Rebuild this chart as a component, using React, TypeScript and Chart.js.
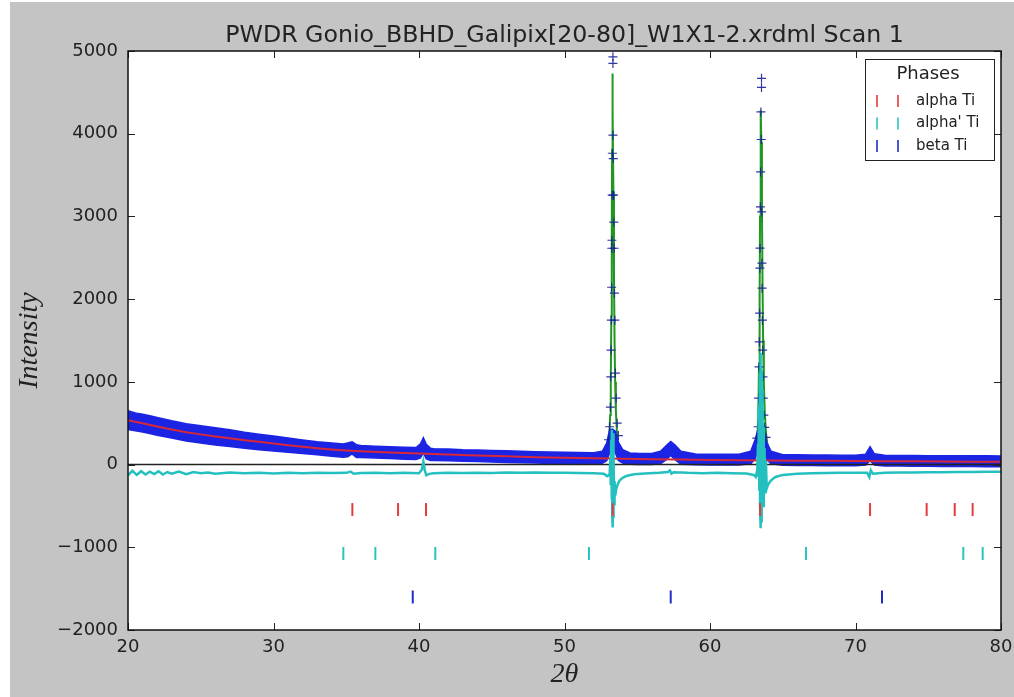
import React, { useEffect, useRef } from "react";
import { Chart, registerables } from "chart.js";
Chart.register(...registerables);

const TITLE = "PWDR Gonio_BBHD_Galipix[20-80]_W1X1-2.xrdml Scan 1";
const X_LABEL = "2θ";
const Y_LABEL = "Intensity";
const X_MIN = 20;
const X_MAX = 80;
const Y_MIN = -2000;
const Y_MAX = 5000;
const X_STEP = 10;
const Y_STEP = 1000;
const LEGEND_TITLE = "Phases";
const PHASE_NAMES = ["alpha Ti", "alpha' Ti", "beta Ti"];
const PHASE_COLORS = ["rgb(228,60,60)", "rgb(40,196,196)", "rgb(36,44,200)"];

// Observed intensity: envelope of the dense band of "+" markers
const obsBandX = [20, 20.5, 21, 21.5, 22, 23, 24, 25, 26, 27, 28, 29, 30, 31, 32, 33, 34, 34.8, 35.1, 35.4, 35.7, 36, 37, 38, 39, 39.8, 40.1, 40.3, 40.5, 40.8, 41, 42, 43, 44, 45, 46, 47, 48, 49, 50, 51, 52, 52.6, 52.9, 53.1, 53.3, 53.5, 53.7, 54.0, 54.5, 55, 56, 56.6, 57.0, 57.3, 57.6, 58.0, 59, 60, 61, 62, 62.8, 63.1, 63.3, 63.5, 63.7, 63.9, 64.2, 65, 66, 67, 68, 69, 70, 70.7, 71.0, 71.3, 72, 73, 74, 75, 76, 77, 78, 79, 80];
const obsBandHigh = [650, 625, 610, 590, 570, 530, 495, 470, 445, 420, 392, 368, 345, 322, 298, 276, 262, 250, 262, 275, 240, 232, 222, 215, 208, 205, 250, 325, 245, 196, 192, 188, 180, 176, 170, 166, 160, 156, 152, 148, 145, 142, 160, 260, 420, 430, 400, 270, 180, 140, 136, 134, 160, 230, 280, 235, 160, 128, 126, 124, 124, 160, 300, 430, 440, 420, 270, 160, 120, 118, 116, 115, 114, 114, 125, 215, 130, 112, 110, 109, 108, 108, 107, 106, 106, 105];
const obsBandLow = [425, 410, 395, 375, 355, 320, 285, 262, 238, 218, 198, 180, 165, 148, 135, 118, 100, 90, 95, 130, 85, 84, 78, 72, 65, 62, 80, 140, 70, 50, 48, 46, 40, 36, 30, 26, 22, 18, 14, 10, 8, 6, 15, 45, 140, 190, 140, 50, 20, 4, 2, 0, 10, 60, 110, 60, 5, -2, -4, -5, -6, 10, 70, 170, 200, 160, 60, 10, -8, -10, -12, -13, -14, -15, -5, 50, -5, -17, -18, -20, -21, -22, -23, -24, -25, -26];

// Observed points visible individually on the two strong reflections
const obsPeakX = [53.02, 53.10, 53.15, 53.18, 53.20, 53.22, 53.24, 53.25, 53.26, 53.28, 53.29, 53.33, 53.33, 53.33, 53.35, 53.37, 53.39, 53.41, 53.43, 53.46, 53.50, 53.55, 53.62, 53.70,
  63.22, 63.30, 63.34, 63.37, 63.39, 63.41, 63.43, 63.44, 63.46, 63.48, 63.54, 63.54, 63.50, 63.52, 63.55, 63.57, 63.58, 63.60, 63.62, 63.64, 63.66, 63.70, 63.76, 63.85];
const obsPeakY = [300, 457, 695, 1061, 1384, 1746, 2144, 2615, 2712, 3257, 3764, 4930, 4850, 3982, 3700, 3257, 2930, 2615, 2072, 1746, 1106, 803, 500, 350,
  320, 457, 803, 1182, 1484, 1830, 2374, 2616, 3115, 3538, 4670, 4560, 4263, 3930, 3055, 2435, 2133, 1746, 1384, 1061, 803, 598, 450, 330];

// Calculated profile
const calcX = [20, 22, 24, 26, 28, 30, 32, 34, 35.0, 35.25, 35.45, 35.65, 35.9, 38, 40.0, 40.15, 40.3, 40.45, 40.6, 42, 45, 48, 50, 52, 52.8, 53.0, 53.08, 53.14, 53.18, 53.22, 53.25, 53.27, 53.29, 53.32, 53.36, 53.40, 53.44, 53.48, 53.53, 53.6, 53.7, 53.85, 54.2, 56, 56.7, 57.0, 57.25, 57.5, 57.8, 60, 62, 63.0, 63.15, 63.25, 63.32, 63.37, 63.41, 63.44, 63.47, 63.50, 63.53, 63.57, 63.61, 63.65, 63.70, 63.76, 63.84, 63.95, 64.1, 66, 70, 70.7, 71.0, 71.3, 74, 77, 80];
const calcY = [535, 460, 390, 340, 295, 255, 215, 180, 170, 200, 235, 195, 162, 145, 135, 175, 290, 175, 130, 120, 103, 88, 80, 74, 110, 200, 350, 600, 1000, 1800, 2800, 3800, 4727, 4300, 3300, 2300, 1500, 1000, 650, 400, 230, 140, 90, 64, 80, 160, 240, 160, 75, 56, 53, 90, 150, 300, 600, 1200, 2000, 3000, 3900, 4283, 3900, 3100, 2200, 1500, 1000, 650, 400, 230, 130, 47, 43, 50, 185, 48, 39, 36, 34];

// Background
const bgX = [20, 21, 22, 23, 24, 25, 26, 27, 28, 29, 30, 31, 32, 33, 34, 35, 36, 38, 40, 42, 44, 46, 48, 50, 52, 54, 56, 58, 60, 62, 64, 66, 68, 70, 72, 74, 76, 78, 80];
const bgY = [535, 500, 460, 425, 392, 365, 340, 318, 295, 275, 255, 235, 215, 197, 182, 170, 160, 146, 133, 121, 110, 100, 90, 82, 75, 69, 64, 60, 56, 53, 50, 47, 45, 43, 41, 39, 37, 35, 34];

// Difference curve (obs - calc), plotted with an offset below zero
const diffX = [20, 20.3, 20.6, 20.9, 21.2, 21.5, 21.8, 22.1, 22.4, 22.7, 23, 23.5, 24, 24.5, 25, 25.5, 26, 27, 28, 29, 30, 31, 32, 33, 34, 35, 35.3, 35.5, 36, 37, 38, 39, 40.0, 40.2, 40.3, 40.4, 40.5, 40.7, 41, 42, 43, 44, 45, 46, 47, 48, 49, 50, 51, 52, 52.7, 52.95, 53.1, 53.15, 53.18, 53.21, 53.24, 53.26, 53.28, 53.3, 53.32, 53.34, 53.36, 53.38, 53.41, 53.44, 53.48, 53.55, 53.65, 53.8, 54.0, 54.3, 54.8, 55.5, 56.5, 57.1, 57.25, 57.35, 57.5, 58.5, 59.5, 60.5, 61.5, 62.5, 63.0, 63.15, 63.25, 63.3, 63.33, 63.36, 63.39, 63.42, 63.44, 63.46, 63.48, 63.5, 63.52, 63.54, 63.56, 63.58, 63.6, 63.62, 63.65, 63.68, 63.71, 63.75, 63.79, 63.84, 63.9, 64.0, 64.2, 64.5, 65, 66, 67, 68, 69, 70, 70.8, 70.95, 71.05, 71.2, 72, 73, 74, 75, 76, 77, 78, 79, 80];
const diffY = [-130, -75, -125, -80, -120, -85, -115, -80, -120, -90, -110, -85, -115, -90, -105, -95, -110, -95, -105, -98, -108, -100, -104, -98, -103, -100, -85, -110, -102, -98, -104, -100, -104, -60, 35, -70, -130, -112, -104, -100, -102, -98, -101, -97, -100, -96, -100, -98, -102, -104, -112, -140, -120, 60, -250, 300, -420, 420, -600, 250, -760, 380, -650, 100, -480, -200, -380, -300, -240, -190, -160, -135, -118, -108, -100, -90, -70, -110, -92, -100, -104, -100, -104, -108, -125, -150, -60, 250, -150, 700, -300, 1100, -500, 1350, -770, 1250, -450, 1150, -700, 900, -350, 700, -500, 450, -380, 200, -330, 50, -290, -240, -190, -150, -125, -112, -106, -102, -100, -100, -98, -150, -70, -110, -98, -96, -95, -93, -92, -90, -90, -88, -88];

// Reflection tick marks of each phase
const alphaTicks = [35.42, 38.56, 40.48, 53.31, 63.44, 71.0, 74.89, 76.82, 78.05];
const alphaPrimeTicks = [34.8, 37.0, 41.12, 51.68, 66.6, 77.41, 78.74];
const betaTicks = [39.57, 57.3, 71.82];
const TICK_ROW_VALUES = [-544, -1075, -1601];

const pts = (xs: number[], ys: number[]) => xs.map((x, i) => ({ x, y: ys[i] }));
const row = (xs: number[], y: number) => xs.map((x) => ({ x, y }));

const TEXT = "#222";
const SANS = '"DejaVu Sans", sans-serif';
const SERIF = '"Liberation Serif", serif';

const decorPlugin = {
  id: "decor",
  beforeDraw(chart: any) {
    const { ctx, chartArea: a, width, height } = chart;
    ctx.save();
    ctx.fillStyle = "#ffffff";
    ctx.fillRect(0, 0, width, height);
    ctx.fillStyle = "rgb(196,196,196)";
    ctx.fillRect(10, 2, width - 10, height - 2);
    ctx.fillStyle = "#ffffff";
    ctx.fillRect(a.left, a.top, a.right - a.left, a.bottom - a.top);
    ctx.restore();
  },
  afterDraw(chart: any) {
    const { ctx, chartArea: a, scales } = chart;
    const xs = scales.x;
    const ys = scales.y;
    ctx.save();
    // inward ticks
    ctx.strokeStyle = TEXT;
    ctx.lineWidth = 1;
    ctx.beginPath();
    for (let v = X_MIN; v <= X_MAX; v += X_STEP) {
      const px = Math.round(xs.getPixelForValue(v)) + 0.5;
      ctx.moveTo(px, a.bottom);
      ctx.lineTo(px, a.bottom - 7);
      ctx.moveTo(px, a.top);
      ctx.lineTo(px, a.top + 7);
    }
    for (let v = Y_MIN; v <= Y_MAX; v += Y_STEP) {
      const py = Math.round(ys.getPixelForValue(v)) + 0.5;
      ctx.moveTo(a.left, py);
      ctx.lineTo(a.left + 7, py);
      ctx.moveTo(a.right, py);
      ctx.lineTo(a.right - 7, py);
    }
    ctx.stroke();
    // frame
    ctx.lineWidth = 1.5;
    ctx.strokeStyle = "#111";
    ctx.strokeRect(a.left, a.top, a.right - a.left, a.bottom - a.top);

    // title
    ctx.fillStyle = TEXT;
    ctx.font = `23.7px ${SANS}`;
    ctx.textAlign = "center";
    ctx.textBaseline = "alphabetic";
    ctx.fillText(TITLE, (a.left + a.right) / 2, 42);

    // axis labels
    ctx.font = `italic 28px ${SERIF}`;
    ctx.textBaseline = "middle";
    ctx.fillText(X_LABEL, (a.left + a.right) / 2, 675);
    ctx.save();
    ctx.translate(30, (a.top + a.bottom) / 2);
    ctx.rotate(-Math.PI / 2);
    ctx.fillText(Y_LABEL, 0, 0);
    ctx.restore();

    // legend
    const lx = 865, ly = 59, lw = 129, lh = 101;
    ctx.fillStyle = "#ffffff";
    ctx.fillRect(lx, ly, lw, lh);
    ctx.lineWidth = 1;
    ctx.strokeStyle = "#222";
    ctx.strokeRect(lx + 0.5, ly + 0.5, lw, lh);
    ctx.fillStyle = TEXT;
    ctx.font = `18px ${SANS}`;
    ctx.textAlign = "center";
    ctx.fillText(LEGEND_TITLE, lx + 63, 74);
    ctx.font = `15px ${SANS}`;
    ctx.textAlign = "left";
    PHASE_NAMES.forEach((name, i) => {
      const y = 101 + i * 22.5;
      ctx.strokeStyle = PHASE_COLORS[i];
      ctx.lineWidth = 1.6;
      ctx.beginPath();
      ctx.moveTo(877, y - 6);
      ctx.lineTo(877, y + 6);
      ctx.moveTo(898, y - 6);
      ctx.lineTo(898, y + 6);
      ctx.stroke();
      ctx.fillStyle = TEXT;
      ctx.fillText(name, 916, y);
    });
    ctx.restore();
  },
};

export default function App() {
  const ref = useRef<HTMLCanvasElement>(null);
  useEffect(() => {
    const canvas = ref.current;
    if (!canvas) return;
    const tickDs = (data: any[], color: string) => ({
      data,
      showLine: false,
      pointStyle: "line",
      rotation: 90,
      pointRadius: 6.5,
      pointBorderWidth: 2,
      pointBorderColor: color,
      borderColor: color,
      backgroundColor: color,
      order: 1,
    });
    const chart = new Chart(canvas, {
      type: "line",
      data: {
        datasets: [
          {
            label: "obs high",
            data: pts(obsBandX, obsBandHigh),
            borderColor: "rgb(28,36,228)",
            backgroundColor: "rgb(28,36,228)",
            borderWidth: 1.5,
            pointRadius: 0,
            fill: "+1",
            order: 6,
          },
          {
            label: "obs low",
            data: pts(obsBandX, obsBandLow),
            borderColor: "rgb(28,36,228)",
            borderWidth: 1.5,
            pointRadius: 0,
            fill: false,
            order: 6,
          },
          {
            label: "obs",
            data: pts(obsPeakX, obsPeakY),
            showLine: false,
            pointStyle: "cross",
            pointRadius: 4.5,
            pointBorderWidth: 1.2,
            pointBorderColor: "rgba(24,34,150,0.9)",
            borderColor: "rgba(24,34,150,0.9)",
            order: 5,
          },
          {
            label: "calc",
            data: pts(calcX, calcY),
            borderColor: "rgb(34,150,34)",
            borderWidth: 2,
            pointRadius: 0,
            fill: false,
            order: 7,
          },
          {
            label: "background",
            data: pts(bgX, bgY),
            borderColor: "rgb(214,40,56)",
            borderWidth: 2,
            pointRadius: 0,
            fill: false,
            order: 4,
          },
          {
            label: "zero",
            data: [
              { x: X_MIN, y: 0 },
              { x: X_MAX, y: 0 },
            ],
            borderColor: "#222",
            borderWidth: 1.5,
            pointRadius: 0,
            fill: false,
            order: 3,
          },
          {
            label: "diff",
            data: pts(diffX, diffY),
            borderColor: "rgb(36,192,192)",
            borderWidth: 2.5,
            pointRadius: 0,
            fill: false,
            order: 2,
          },
          tickDs(row(alphaTicks, TICK_ROW_VALUES[0]), PHASE_COLORS[0]),
          tickDs(row(alphaPrimeTicks, TICK_ROW_VALUES[1]), PHASE_COLORS[1]),
          tickDs(row(betaTicks, TICK_ROW_VALUES[2]), PHASE_COLORS[2]),
        ] as any,
      },
      options: {
        animation: false,
        responsive: false,
        events: [],
        layout: { padding: { left: 53, right: 13, top: 51, bottom: 27 } },
        plugins: { legend: { display: false }, tooltip: { enabled: false }, title: { display: false } },
        elements: { line: { tension: 0 } },
        scales: {
          x: {
            type: "linear",
            min: X_MIN,
            max: X_MAX,
            grid: { display: false, drawTicks: false },
            border: { display: false },
            ticks: { stepSize: X_STEP, padding: 7, color: TEXT, font: { family: SANS, size: 18 }, maxRotation: 0 },
            afterFit: (s: any) => {
              s.height = 40;
              s.paddingLeft = 0;
              s.paddingRight = 0;
            },
          },
          y: {
            type: "linear",
            min: Y_MIN,
            max: Y_MAX,
            grid: { display: false, drawTicks: false },
            border: { display: false },
            ticks: {
              stepSize: Y_STEP,
              padding: 10,
              color: TEXT,
              font: { family: SANS, size: 18 },
              callback: (v: any) => String(v).replace("-", "\u2212"),
            },
            afterFit: (s: any) => {
              s.width = 75;
              s.paddingTop = 0;
              s.paddingBottom = 0;
            },
          },
        },
      } as any,
      plugins: [decorPlugin],
    });
    return () => chart.destroy();
  }, []);
  return (
    <div style={{ position: "absolute", left: 0, top: 0, width: 1014, height: 697 }}>
      <canvas ref={ref} width={1014} height={697} style={{ display: "block", width: 1014, height: 697 }} />
    </div>
  );
}
